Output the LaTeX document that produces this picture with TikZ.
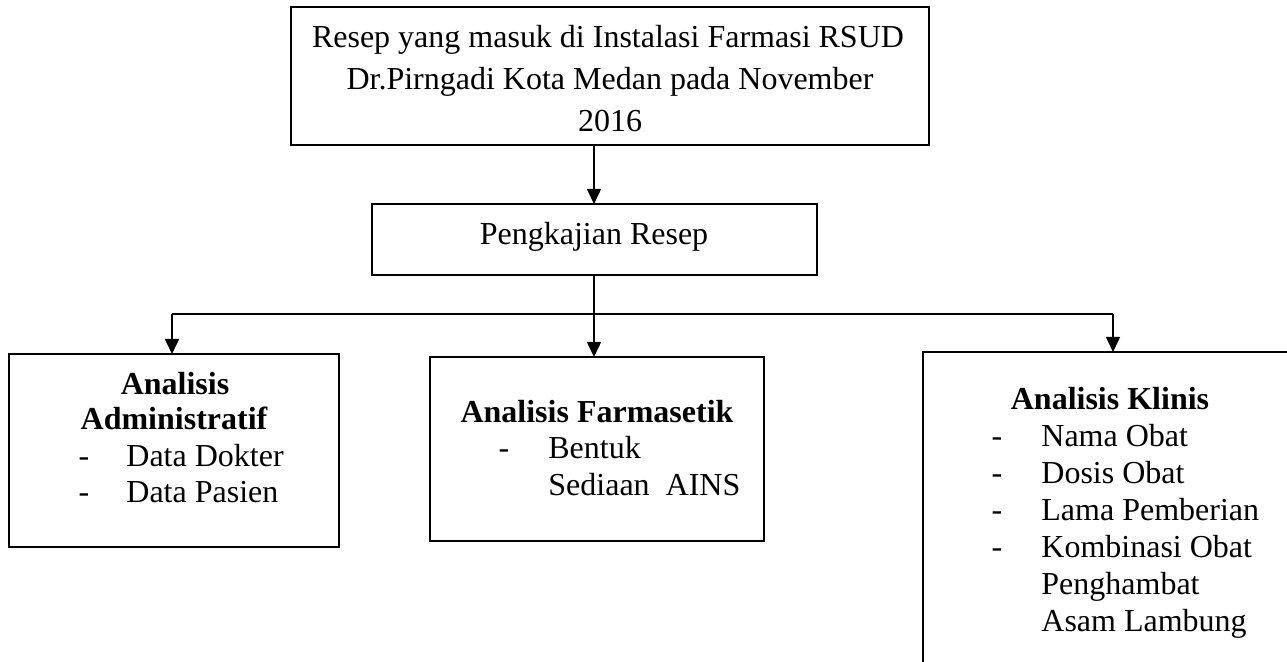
\documentclass[tikz,border=0pt]{standalone}
\usepackage{fontspec}
\setmainfont{Liberation Serif}
\usetikzlibrary{arrows.meta}
\begin{document}
\begin{tikzpicture}[x=0.5pt,y=-0.5pt,
  box/.style={draw, line width=0.75pt, rectangle, inner sep=0pt, outer sep=0pt, anchor=north west},
  txt/.style={inner sep=0pt, anchor=base, font=\fontsize{16pt}{19pt}\selectfont},
  ttl/.style={txt, font=\fontsize{16pt}{19pt}\selectfont\bfseries},
  lft/.style={txt, anchor=base west},
  conn/.style={line width=0.75pt},
  arr/.style={conn, -{Triangle[length=7.5pt,width=7pt]}}]
\useasboundingbox (0,0) rectangle (1287,662);
\clip (0,0) rectangle (1287,662);

% boxes
\node[box, minimum width=319pt, minimum height=69pt] (top) at (291,7) {};
\node[box, minimum width=222.5pt, minimum height=35.5pt] (pk) at (372,204) {};
\node[box, minimum width=165pt, minimum height=96.5pt] (adm) at (9,354) {};
\node[box, minimum width=167pt, minimum height=92pt] (far) at (430,357) {};
\node[box, minimum width=190pt, minimum height=174pt] (kli) at (923,352) {};

% texts
\node[txt] (t1) at (608,48) {Resep yang masuk di Instalasi Farmasi RSUD};
\node[txt] (t2) at (610,90) {Dr.Pirngadi Kota Medan pada November};
\node[txt] (t3) at (610,132) {2016};
\node[txt] (p1) at (594,245) {Pengkajian Resep};

\node[ttl] (a1) at (175,395) {Analisis};
\node[ttl] (a2) at (174,430) {Administratif};
\node[txt] (ad1) at (84,467) {-};
\node[lft] (a3) at (126,467) {Data Dokter};
\node[txt] (ad2) at (84,503) {-};
\node[lft] (a4) at (126,503) {Data Pasien};

\node[ttl] (f1) at (597,423) {Analisis Farmasetik};
\node[txt] (fd1) at (504,459) {-};
\node[lft] (f2) at (548,459) {Bentuk};
\node[lft] (f3) at (548,496) {Sediaan\ \ AINS};

\node[ttl] (k1) at (1110,410) {Analisis Klinis};
\node[txt] (kd1) at (997,447) {-};
\node[lft] (k2) at (1041,447) {Nama Obat};
\node[txt] (kd2) at (997,484) {-};
\node[lft] (k3) at (1041,484) {Dosis Obat};
\node[txt] (kd3) at (997,521) {-};
\node[lft] (k4) at (1041,521) {Lama Pemberian};
\node[txt] (kd4) at (997,558) {-};
\node[lft] (k5) at (1041,558) {Kombinasi Obat};
\node[lft] (k6) at (1041,595) {Penghambat};
\node[lft] (k7) at (1041,632) {Asam Lambung};

% connectors
\coordinate (j) at (594,314);
\coordinate (jl) at (172,314);
\coordinate (jr) at (1113,314);
\draw[arr] (j |- top.south) -- (j |- pk.north);
\draw[conn] (j |- pk.south) -- (j);
\draw[conn] (jl) -- (jr);
\draw[arr] (jl) -- (jl |- adm.north);
\draw[arr] (j) -- (j |- far.north);
\draw[arr] (jr) -- (jr |- kli.north);
\end{tikzpicture}
\end{document}
